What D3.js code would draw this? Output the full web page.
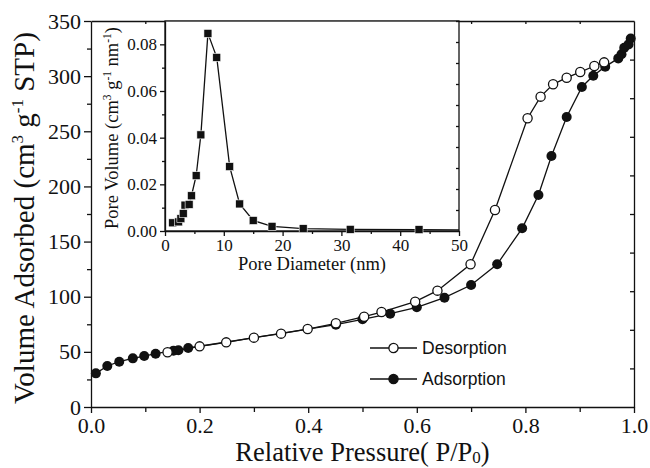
<!DOCTYPE html>
<html>
<head>
<meta charset="utf-8">
<script src="https://cdn.jsdelivr.net/npm/d3@7"></script>
<style>
  body { margin: 0; background: #fff; }
  svg text { font-family: "Liberation Serif", "Times New Roman", serif; fill: #111; }
  .axis path, .axis line { stroke: #111; stroke-width: 1.3; }
</style>
</head>
<body>
<div id="chart"></div>
<script>
// isotherm, adsorption branch
var adsP = [0.009, 0.030, 0.052, 0.077, 0.098, 0.119, 0.152, 0.161, 0.179, 0.451, 0.500, 0.551, 0.600, 0.651, 0.700, 0.748, 0.794, 0.824, 0.848, 0.876, 0.904, 0.925, 0.947, 0.971, 0.977, 0.982, 0.990, 0.994];
var adsV = [30.5, 37.2, 41.1, 44.1, 46.2, 48.3, 51.1, 51.4, 53.5, 74.6, 79.5, 84.6, 90.4, 99.1, 110.6, 129.4, 162.0, 192.3, 227.6, 263.0, 290.2, 300.3, 308.6, 316.1, 319.8, 325.8, 328.8, 334.2];
// desorption branch
var desP = [0.141, 0.200, 0.249, 0.300, 0.350, 0.399, 0.451, 0.503, 0.535, 0.597, 0.638, 0.699, 0.744, 0.804, 0.828, 0.851, 0.876, 0.901, 0.927, 0.945];
var desV = [49.6, 55.0, 58.6, 62.9, 66.5, 70.7, 75.9, 81.9, 86.1, 95.5, 105.5, 129.4, 178.6, 261.8, 281.4, 292.6, 298.6, 303.7, 309.2, 312.5];
// inset, pore size distribution
var poreD = [1.3, 2.3, 2.7, 3.1, 3.4, 4.1, 4.5, 5.3, 6.1, 7.3, 8.8, 11.0, 12.7, 15.0, 18.2, 23.5, 31.5, 43.2];
var poreV = [0.0035, 0.0039, 0.0053, 0.0075, 0.0111, 0.0114, 0.0151, 0.0237, 0.0412, 0.0847, 0.0744, 0.0276, 0.0116, 0.0045, 0.0020, 0.0010, 0.0007, 0.0006];

var xTicks = [0, 0.2, 0.4, 0.6, 0.8, 1.0];
var yTicks = [0, 50, 100, 150, 200, 250, 300, 350];
var ixTicks = [0, 10, 20, 30, 40, 50];
var iyTicks = [0, 0.02, 0.04, 0.06, 0.08];

var W = 650, H = 468;
var m = {left: 91, right: 634, top: 21, bottom: 407};

var svg = d3.select("#chart").append("svg")
    .attr("width", W).attr("height", H);

var x = d3.scaleLinear().domain([0, 1]).range([m.left, m.right]);
var y = d3.scaleLinear().domain([0, 350]).range([m.bottom, m.top]);

// minor ticks
svg.append("g").attr("class", "axis")
    .attr("transform", "translate(0," + m.bottom + ")")
    .call(d3.axisBottom(x).tickValues(d3.range(0.1, 1, 0.2)).tickSize(5).tickFormat(""))
    .select(".domain").remove();
svg.append("g").attr("class", "axis")
    .attr("transform", "translate(" + m.left + ",0)")
    .call(d3.axisLeft(y).tickValues(d3.range(25, 350, 50)).tickSize(4).tickFormat(""))
    .select(".domain").remove();

var xAxis = svg.append("g").attr("class", "axis")
    .attr("transform", "translate(0," + m.bottom + ")")
    .call(d3.axisBottom(x).tickValues(xTicks).tickSize(6).tickPadding(4).tickFormat(d3.format(".1f")).tickSizeOuter(0));
xAxis.selectAll("text").style("font-size", "22px").attr("fill", "#111");

var yAxis = svg.append("g").attr("class", "axis")
    .attr("transform", "translate(" + m.left + ",0)")
    .call(d3.axisLeft(y).tickValues(yTicks).tickSize(7).tickPadding(3).tickFormat(d3.format("d")).tickSizeOuter(0));
yAxis.selectAll("text").style("font-size", "22px").attr("fill", "#111");

// top and right frame with small inward ticks
svg.append("g").attr("class", "axis")
    .attr("transform", "translate(0," + m.top + ")")
    .call(d3.axisTop(x).tickValues(d3.range(0.1, 1, 0.1)).tickSize(-3).tickFormat("").tickSizeOuter(0));
svg.append("g").attr("class", "axis")
    .attr("transform", "translate(" + m.right + ",0)")
    .call(d3.axisRight(y).tickValues(d3.range(35, 350, 35)).tickSize(-4).tickFormat("").tickSizeOuter(0));

// axis titles
var xt = svg.append("text")
    .attr("x", (m.left + m.right) / 2).attr("y", 461)
    .attr("text-anchor", "middle").style("font-size", "26.5px");
xt.append("tspan").text("Relative Pressure( P/P");
xt.append("tspan").attr("dy", 2).style("font-size", "17px").text("0");
xt.append("tspan").attr("dy", -2).text(")");

var yt = svg.append("text")
    .attr("transform", "translate(34," + ((m.top + m.bottom) / 2 + 4) + ") rotate(-90)")
    .attr("text-anchor", "middle").style("font-size", "29px");
yt.append("tspan").text("Volume Adsorbed (cm");
yt.append("tspan").attr("dy", -11).style("font-size", "17px").text("3");
yt.append("tspan").attr("dy", 11).text(" g");
yt.append("tspan").attr("dy", -11).style("font-size", "17px").text("-1");
yt.append("tspan").attr("dy", 11).text(" STP)");

// isotherm lines and markers
var line = d3.line().x(function(d) { return x(d[0]); }).y(function(d) { return y(d[1]); });
var ads = adsP.map(function(p, i) { return [p, adsV[i]]; });
var des = desP.map(function(p, i) { return [p, desV[i]]; });

svg.append("path").datum(ads).attr("d", line)
    .attr("fill", "none").attr("stroke", "#111").attr("stroke-width", 1.3);
svg.append("path").datum(des).attr("d", line)
    .attr("fill", "none").attr("stroke", "#111").attr("stroke-width", 1.3);

svg.selectAll(".ads").data(ads).enter().append("circle")
    .attr("class", "ads")
    .attr("cx", function(d) { return x(d[0]); })
    .attr("cy", function(d) { return y(d[1]); })
    .attr("r", 5).attr("fill", "#111");
svg.selectAll(".des").data(des).enter().append("circle")
    .attr("class", "des")
    .attr("cx", function(d) { return x(d[0]); })
    .attr("cy", function(d) { return y(d[1]); })
    .attr("r", 4.6).attr("fill", "#fff").attr("stroke", "#111").attr("stroke-width", 1.3);

// legend
var legend = [{name: "Desorption", fill: "#fff"}, {name: "Adsorption", fill: "#111"}];
var lg = svg.selectAll(".lg").data(legend).enter().append("g")
    .attr("transform", function(d, i) { return "translate(370," + (348 + i * 31) + ")"; });
lg.append("line").attr("x1", 0).attr("x2", 47).attr("stroke", "#111").attr("stroke-width", 1.3);
lg.append("circle").attr("cx", 23.5).attr("r", 4.6)
    .attr("fill", function(d) { return d.fill; }).attr("stroke", "#111").attr("stroke-width", 1.3);
lg.append("text").attr("x", 52).attr("dy", "0.36em")
    .style("font-family", "'Liberation Sans', Arial, sans-serif").style("font-size", "17.5px")
    .text(function(d) { return d.name; });

// inset
var im = {left: 165, right: 459, top: 21, bottom: 231};
var ix = d3.scaleLinear().domain([0, 50]).range([im.left, im.right]);
var iy = d3.scaleLinear().domain([0, 0.09]).range([im.bottom, im.top]);

svg.append("rect").attr("x", im.left).attr("y", im.top)
    .attr("width", im.right - im.left).attr("height", im.bottom - im.top)
    .attr("fill", "#fff").attr("stroke", "#111").attr("stroke-width", 1.3);

svg.append("g").attr("class", "axis")
    .attr("transform", "translate(0," + im.bottom + ")")
    .call(d3.axisBottom(ix).tickValues(d3.range(5, 50, 10)).tickSize(3).tickFormat(""))
    .select(".domain").remove();
svg.append("g").attr("class", "axis")
    .attr("transform", "translate(" + im.left + ",0)")
    .call(d3.axisLeft(iy).tickValues(d3.range(0.01, 0.09, 0.02)).tickSize(3).tickFormat(""))
    .select(".domain").remove();

var ixAxis = svg.append("g").attr("class", "axis")
    .attr("transform", "translate(0," + im.bottom + ")")
    .call(d3.axisBottom(ix).tickValues(ixTicks).tickSize(5).tickPadding(3).tickFormat(d3.format("d")).tickSizeOuter(0));
ixAxis.selectAll("text").style("font-size", "17px").attr("fill", "#111");

var iyAxis = svg.append("g").attr("class", "axis")
    .attr("transform", "translate(" + im.left + ",0)")
    .call(d3.axisLeft(iy).tickValues(iyTicks).tickSize(5).tickPadding(3).tickFormat(d3.format(".2f")).tickSizeOuter(0));
iyAxis.selectAll("text").style("font-size", "17px").attr("fill", "#111");

svg.append("g").attr("class", "axis")
    .attr("transform", "translate(" + im.right + ",0)")
    .call(d3.axisRight(iy).tickValues(d3.range(0.009, 0.09, 0.009)).tickSize(-3).tickFormat("").tickSizeOuter(0))
    .select(".domain").remove();

svg.append("text")
    .attr("x", (im.left + im.right) / 2).attr("y", 270)
    .attr("text-anchor", "middle").style("font-size", "18.5px")
    .text("Pore Diameter (nm)");

var iyt = svg.append("text")
    .attr("transform", "translate(118," + ((im.top + im.bottom) / 2 + 2) + ") rotate(-90)")
    .attr("text-anchor", "middle").style("font-size", "18.5px");
iyt.append("tspan").text("Pore Volume (cm");
iyt.append("tspan").attr("dy", -7).style("font-size", "11.5px").text("3");
iyt.append("tspan").attr("dy", 7).text(" g");
iyt.append("tspan").attr("dy", -7).style("font-size", "11.5px").text("-1");
iyt.append("tspan").attr("dy", 7).text(" nm");
iyt.append("tspan").attr("dy", -7).style("font-size", "11.5px").text("-1");
iyt.append("tspan").attr("dy", 7).text(")");

var pore = poreD.map(function(d, i) { return [d, poreV[i]]; });
var iline = d3.line().x(function(d) { return ix(d[0]); }).y(function(d) { return iy(d[1]); });
svg.append("path").datum(pore).attr("d", iline)
    .attr("fill", "none").attr("stroke", "#111").attr("stroke-width", 1.3);
svg.append("path").datum([pore[pore.length - 1], [50, 0.0005]]).attr("d", iline)
    .attr("fill", "none").attr("stroke", "#111").attr("stroke-width", 1.3);
svg.selectAll(".sq").data(pore).enter().append("rect")
    .attr("class", "sq")
    .attr("x", function(d) { return ix(d[0]) - 4; })
    .attr("y", function(d) { return iy(d[1]) - 4; })
    .attr("width", 8).attr("height", 8)
    .attr("fill", "#111").attr("stroke", "#fff").attr("stroke-width", 0.6);
</script>
</body>
</html>
